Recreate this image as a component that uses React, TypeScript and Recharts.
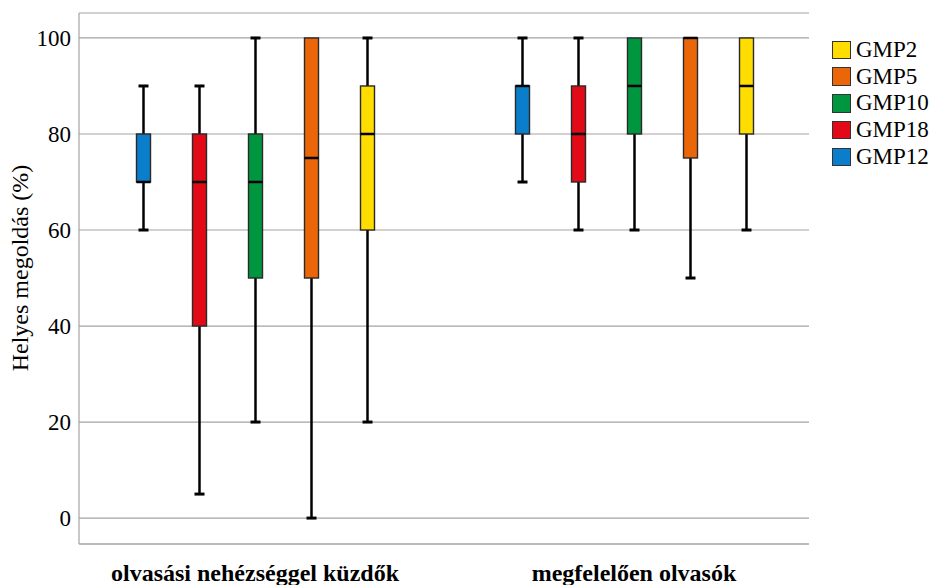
import { ComposedChart, Bar, XAxis, YAxis, CartesianGrid, Label } from "recharts";

const FONT = "Liberation Serif";

const GROUPS = ["olvasási nehézséggel küzdők", "megfelelően olvasók"];
const Y_TICKS = [0, 20, 40, 60, 80, 100];

// [min, q1, median, q3, max] per group
const GMP12 = [
  [60, 70, 70, 80, 90],
  [70, 80, 90, 90, 100],
];
const GMP18 = [
  [5, 40, 70, 80, 90],
  [60, 70, 80, 90, 100],
];
const GMP10 = [
  [20, 50, 70, 80, 100],
  [60, 80, 90, 100, 100],
];
const GMP5 = [
  [0, 50, 75, 100, 100],
  [50, 75, 100, 100, 100],
];
const GMP2 = [
  [20, 60, 80, 90, 100],
  [60, 80, 90, 100, 100],
];

const SERIES = [
  { key: "GMP12", stats: GMP12, color: "#0a7ecb" },
  { key: "GMP18", stats: GMP18, color: "#e20a17" },
  { key: "GMP10", stats: GMP10, color: "#00963f" },
  { key: "GMP5", stats: GMP5, color: "#eb6609" },
  { key: "GMP2", stats: GMP2, color: "#ffdd00" },
];

const LEGEND_ORDER = ["GMP2", "GMP5", "GMP10", "GMP18", "GMP12"];

interface BoxStats {
  min: number;
  q1: number;
  med: number;
  q3: number;
  max: number;
}

const data = GROUPS.map((group, i) => {
  const row: Record<string, any> = { group };
  SERIES.forEach((s) => {
    const [min, q1, med, q3, max] = s.stats[i];
    row[s.key] = [min, max];
    row[s.key + "_box"] = { min, q1, med, q3, max } as BoxStats;
  });
  return row;
});

// Draws whiskers, box and median inside the range bar [min, max]
function boxShape(key: string, color: string) {
  return (props: any) => {
    const { x, y, width, height, payload } = props;
    const st: BoxStats = payload[key + "_box"];
    const span = st.max - st.min;
    const toY = (v: number) => y + ((st.max - v) / span) * height;
    const cx = x + width / 2;
    const half = 7;
    const cap = 5;
    const yMax = toY(st.max);
    const yQ3 = toY(st.q3);
    const yMed = toY(st.med);
    const yQ1 = toY(st.q1);
    const yMin = toY(st.min);
    return (
      <g>
        {st.max > st.q3 && (
          <>
            <line x1={cx} x2={cx} y1={yMax} y2={yQ3} stroke="#000" strokeWidth={2.5} />
            <line x1={cx - cap} x2={cx + cap} y1={yMax} y2={yMax} stroke="#000" strokeWidth={3} />
          </>
        )}
        {st.min < st.q1 && (
          <>
            <line x1={cx} x2={cx} y1={yQ1} y2={yMin} stroke="#000" strokeWidth={2.5} />
            <line x1={cx - cap} x2={cx + cap} y1={yMin} y2={yMin} stroke="#000" strokeWidth={3} />
          </>
        )}
        <rect
          x={cx - half}
          y={yQ3}
          width={half * 2}
          height={yQ1 - yQ3}
          fill={color}
          stroke="#2a2a2a"
          strokeWidth={1.4}
        />
        <line x1={cx - half} x2={cx + half} y1={yMed} y2={yMed} stroke="#000" strokeWidth={2.5} />
      </g>
    );
  };
}

function LegendBox() {
  const colorOf = (k: string) => SERIES.find((s) => s.key === k)!.color;
  return (
    <div style={{ position: "absolute", left: 832, top: 36.5, fontFamily: FONT }}>
      {LEGEND_ORDER.map((k) => (
        <div key={k} style={{ display: "flex", alignItems: "center", height: 26.75 }}>
          <div
            style={{
              width: 17,
              height: 16.5,
              background: colorOf(k),
              border: "1.5px solid #333",
            }}
          />
          <span style={{ fontSize: 23, lineHeight: "26px", color: "#000", marginLeft: 5 }}>{k}</span>
        </div>
      ))}
    </div>
  );
}

export default function App() {
  return (
    <div style={{ position: "absolute", left: 0, top: 0, width: 935, height: 585, background: "#fff", fontFamily: FONT }}>
      <ComposedChart
        width={935}
        height={585}
        data={data}
        margin={{ top: 13, right: 126, bottom: 0, left: 0 }}
        barGap={0}
      >
        <CartesianGrid vertical={false} stroke="#a3a3a3" strokeWidth={1.2} />
        <XAxis
          dataKey="group"
          type="category"
          height={41}
          padding={{ left: -13.5, right: -14.5 }}
          axisLine={{ stroke: "#a3a3a3", strokeWidth: 1.2 }}
          tickLine={false}
          tickMargin={14}
          tick={{ fill: "#000", fontSize: 24, fontWeight: 700, fontFamily: FONT }}
        />
        <YAxis
          width={79}
          domain={[-5.4, 105.2]}
          ticks={Y_TICKS}
          allowDataOverflow
          axisLine={{ stroke: "#a3a3a3", strokeWidth: 1.2 }}
          tickLine={false}
          tick={{ fill: "#000", fontSize: 23, fontFamily: FONT }}
        >
          <Label
            content={() => (
              <text
                x={28}
                y={268}
                transform="rotate(-90 28 268)"
                textAnchor="middle"
                fontFamily={FONT}
                fontSize={24}
                fill="#000"
              >
                Helyes megoldás (%)
              </text>
            )}
          />
        </YAxis>
        {SERIES.map((s) => (
          <Bar
            key={s.key}
            dataKey={s.key}
            barSize={56}
            isAnimationActive={false}
            shape={boxShape(s.key, s.color)}
          />
        ))}
      </ComposedChart>
      <LegendBox />
    </div>
  );
}
